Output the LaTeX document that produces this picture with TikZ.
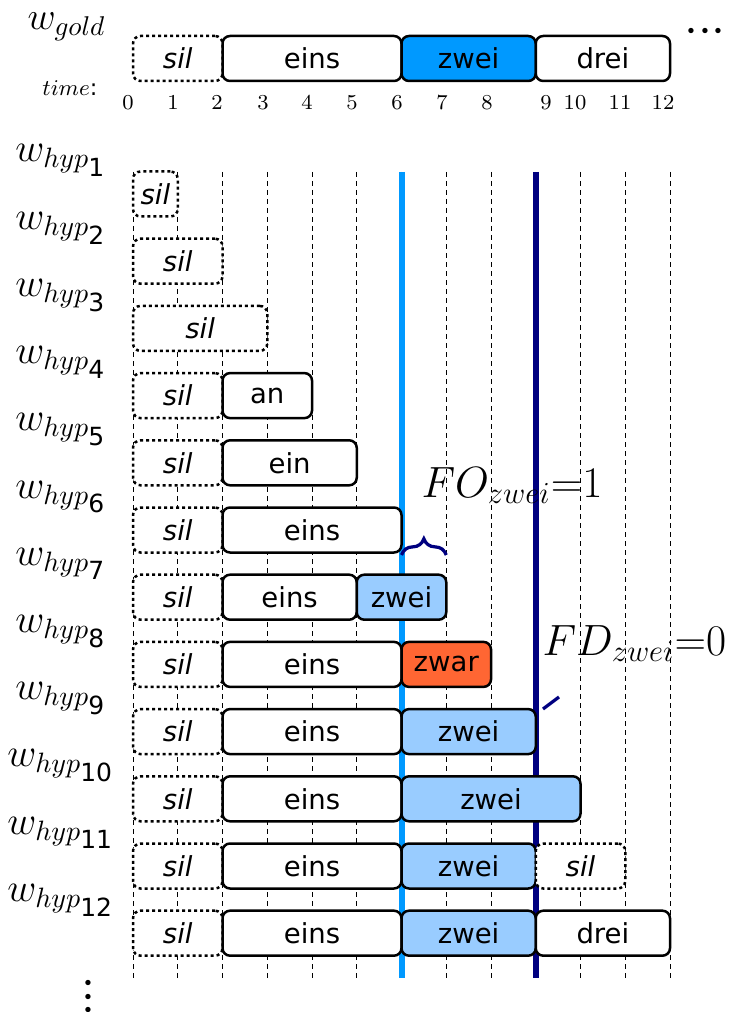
\documentclass[tikz,border=0pt]{standalone}
\usepackage{fix-cm}
\usepackage{amsmath}
\usepackage[no-math]{fontspec}
\setmainfont{DejaVu Sans}
\usetikzlibrary{decorations.pathreplacing}
\definecolor{goldblue}{HTML}{0099FF}
\definecolor{hypblue}{HTML}{99CCFF}
\definecolor{zwarred}{HTML}{FF6633}
\definecolor{navyline}{HTML}{000080}
\newcommand\wordbox[6]{%
  \node[#5, minimum width={(#3-#2)*17.9pt}] (#1) at ({133+44.75*(#2+#3)/2}, #4) {#6};}
\newcommand\mydot{\ensuremath{\mathord{\cdot}}}
\newcommand\myhdots{\mydot\kern-0.2pt\mydot\kern-0.2pt\mydot}
\newcommand\myvdots{\vbox{\baselineskip5.3pt\lineskiplimit-10pt\hbox{\mydot}\hbox{\mydot}\hbox{\mydot}}}
\newcommand\hypnum[1]{\mbox{\fontsize{10}{12}\selectfont #1}}
\tikzset{
  wbox/.style={draw, line width=1pt, rounded corners=3pt, minimum height=18pt,
    inner sep=0pt, fill=white, font=\fontsize{11}{13}\selectfont},
  silbox/.style={wbox, dash pattern=on 1.2pt off 1.2pt, font=\fontsize{11}{13}\selectfont\itshape},
  hyplab/.style={font=\fontsize{16}{19}\selectfont, inner sep=0pt},
  axlab/.style={font=\fontsize{8.5}{10}\selectfont, inner sep=0pt, anchor=base},
  gridline/.style={line width=0.4pt, dash pattern=on 2pt off 1.6pt},
  bigmath/.style={font=\fontsize{17.5}{20}\selectfont, inner sep=0pt, anchor=base west},
  dotnode/.style={font=\fontsize{20}{22}\selectfont, inner sep=0pt},
}
\begin{document}
\begin{tikzpicture}[x=0.4pt, y=-0.4pt]
\useasboundingbox (0,0) rectangle (730,1012);
% grid
\foreach \t in {0,...,12}{
  \coordinate (ga\t) at ({133+44.75*\t},172);
  \coordinate (gb\t) at ({133+44.75*\t},978);
  \draw[gridline] (ga\t) -- (gb\t);
}
% thick lines
\coordinate (la) at (401.5,172); \coordinate (lb) at (401.5,978);
\coordinate (na) at (535.75,172); \coordinate (nb) at (535.75,978);
\draw[goldblue, line width=2.4pt] (la) -- (lb);
\draw[navyline, line width=2.4pt] (na) -- (nb);
% gold
\node[font=\fontsize{15.5}{18}\selectfont, inner sep=0pt, anchor=base west] (wgold) at (27,30) {$w_{gold}$};
\node[dotnode] (gdots) at (705,32) {\myhdots};
\node[font=\fontsize{9}{11}\selectfont, inner sep=0pt, anchor=base west] (timelab) at (42,96) {$time$:};
\wordbox{g-sil}{0}{2}{58.5}{silbox}{sil}
\wordbox{g-eins}{2}{6}{58.5}{wbox}{eins}
\wordbox{g-zwei}{6}{9}{58.5}{wbox, fill=goldblue}{zwei}
\wordbox{g-drei}{9}{12}{58.5}{wbox}{drei}
% axis numbers
\foreach \v/\x in {0/128,1/173,2/217,3/263,4/307,5/352,6/397,7/442,8/487,9/546,10/575,11/620,12/663}{
  \node[axlab] (ax\v) at (\x,110) {$\v$};
}
% hyp labels
\foreach \n in {1,...,12}{
  \node[hyplab, anchor=base] (lab\n) at (61,{162+67.2*(\n-1)}) {$w_{hyp_{\hypnum{\n}}}$};
}
% rows
\wordbox{h1-sil}{0}{1}{194}{silbox}{sil}
\wordbox{h2-sil}{0}{2}{261.2}{silbox}{sil}
\wordbox{h3-sil}{0}{3}{328.4}{silbox}{sil}
\wordbox{h4-sil}{0}{2}{395.6}{silbox}{sil}
\wordbox{h4-an}{2}{4}{395.6}{wbox}{an}
\wordbox{h5-sil}{0}{2}{462.8}{silbox}{sil}
\wordbox{h5-ein}{2}{5}{462.8}{wbox}{ein}
\wordbox{h6-sil}{0}{2}{530}{silbox}{sil}
\wordbox{h6-eins}{2}{6}{530}{wbox}{eins}
\wordbox{h7-sil}{0}{2}{597.2}{silbox}{sil}
\wordbox{h7-eins}{2}{5}{597.2}{wbox}{eins}
\wordbox{h7-zwei}{5}{7}{597.2}{wbox, fill=hypblue}{zwei}
\wordbox{h8-sil}{0}{2}{664.4}{silbox}{sil}
\wordbox{h8-eins}{2}{6}{664.4}{wbox}{eins}
\wordbox{h8-zwar}{6}{8}{664.4}{wbox, fill=zwarred}{zwar}
\wordbox{h9-sil}{0}{2}{731.6}{silbox}{sil}
\wordbox{h9-eins}{2}{6}{731.6}{wbox}{eins}
\wordbox{h9-zwei}{6}{9}{731.6}{wbox, fill=hypblue}{zwei}
\wordbox{h10-sil}{0}{2}{798.8}{silbox}{sil}
\wordbox{h10-eins}{2}{6}{798.8}{wbox}{eins}
\wordbox{h10-zwei}{6}{10}{798.8}{wbox, fill=hypblue}{zwei}
\wordbox{h11-sil}{0}{2}{866}{silbox}{sil}
\wordbox{h11-eins}{2}{6}{866}{wbox}{eins}
\wordbox{h11-zwei}{6}{9}{866}{wbox, fill=hypblue}{zwei}
\wordbox{h11-sil2}{9}{11}{866}{silbox}{sil}
\wordbox{h12-sil}{0}{2}{933.2}{silbox}{sil}
\wordbox{h12-eins}{2}{6}{933.2}{wbox}{eins}
\wordbox{h12-zwei}{6}{9}{933.2}{wbox, fill=hypblue}{zwei}
\wordbox{h12-drei}{9}{12}{933.2}{wbox}{drei}
% FO / FD
\coordinate (fo1) at (401.5,555); \coordinate (fo2) at (446.25,555);
\draw[navyline, line width=1.3pt, decorate, decoration={brace, amplitude=6.5pt}] (fo1) -- (fo2);
\node[bigmath] (fo) at (421,497) {$FO_{zwei}{=}1$};
\coordinate (fd1) at (543,709); \coordinate (fd2) at (559,697);
\draw[navyline, line width=1.3pt] (fd1) -- (fd2);
\node[dotnode] (vd) at (88,998) {\myvdots};
\node[bigmath] (fd) at (542,655) {$FD_{zwei}{=}0$};
\end{tikzpicture}
\end{document}
